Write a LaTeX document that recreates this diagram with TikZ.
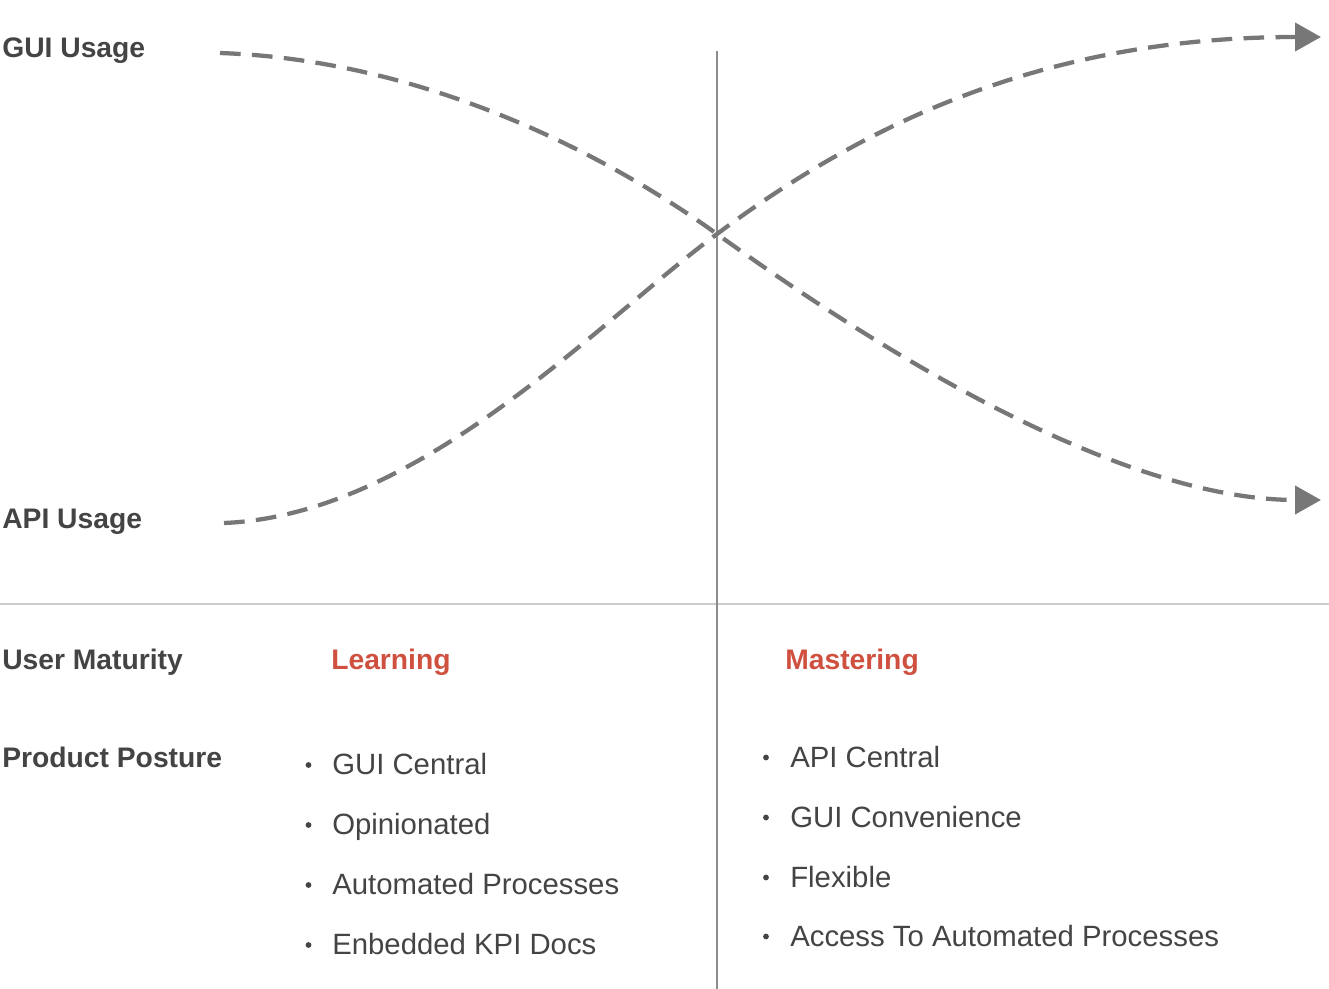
\documentclass[tikz,border=0pt]{standalone}
\usepackage{fontspec}
\setmainfont{Liberation Sans}
\usetikzlibrary{arrows.meta}
\definecolor{txt}{HTML}{444444}
\definecolor{curvec}{HTML}{777777}
\definecolor{redt}{HTML}{D05040}
\definecolor{hlinec}{HTML}{CCCCCC}
\definecolor{vlinec}{HTML}{8C8C8C}
\begin{document}
\begin{tikzpicture}[x=0.75pt,y=-0.75pt,
 lbl/.style={anchor=base west, inner sep=0pt, text=txt, font=\fontsize{21.2}{25}\selectfont\bfseries},
 phase/.style={lbl, text=redt},
 item/.style={anchor=base west, inner sep=0pt, text=txt, font=\fontsize{22}{26}\selectfont},
 usage/.style={draw=curvec, line width=3.2pt, dash pattern=on 15.5pt off 8.5pt, -{Triangle[length=19.5pt,width=21pt]}},
 bul/.style={fill=txt}]
\useasboundingbox (0,0) rectangle (1329,989);
% dividers
\coordinate (hL) at (0,604);
\coordinate (hR) at (1329,604);
\coordinate (vT) at (717,51);
\coordinate (vB) at (717,989);
\draw[hlinec, line width=1.5pt] (hL) -- (hR);
\draw[vlinec, line width=0.8pt] (vT) -- (vB);
% curves
\coordinate (guiS) at (220,53);
\coordinate (cross) at (717,234);
\coordinate (guiE) at (1321,500);
\coordinate (apiS) at (224,523);
\coordinate (apiE) at (1321,37);
\draw[usage] (guiS) .. controls (420,60) and (600,150) .. (cross) .. controls (830,315) and (1100,500) .. (guiE);
\draw[usage] (apiS) .. controls (420,515) and (600,320) .. (cross) .. controls (870,120) and (1050,37) .. (apiE);
% labels
\node[lbl] (gui) at (2,57.5) {GUI Usage};
\node[lbl] (api) at (2,528) {API Usage};
\node[lbl] (um) at (2,669) {User Maturity};
\node[lbl] (pp) at (2,767) {Product Posture};
\node[phase] (learn) at (331,669) {Learning};
\node[phase] (master) at (785,669) {Mastering};
% left items
\foreach \t/\y/\n in {GUI Central/774/l1, Opinionated/834/l2, Automated Processes/894/l3, Enbedded KPI Docs/954/l4}{
  \fill[bul] (308.5,\y-9) circle (2.9);
  \node[item] (\n) at (332,\y) {\t};
}
% right items
\foreach \t/\y/\n in {API Central/767/r1, GUI Convenience/827/r2, Flexible/887/r3, Access To Automated Processes/946/r4}{
  \fill[bul] (766,\y-9.5) circle (2.9);
  \node[item] (\n) at (790,\y) {\t};
}
\end{tikzpicture}
\end{document}
